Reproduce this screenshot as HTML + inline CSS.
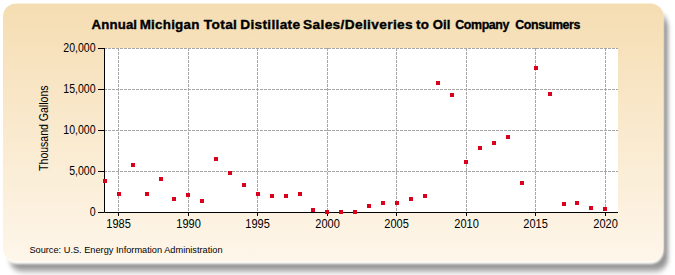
<!DOCTYPE html>
<html><head><meta charset="utf-8"><style>
html,body{margin:0;padding:0;background:#fff;width:675px;height:275px;overflow:hidden}
svg{display:block}
text{font-family:"Liberation Sans",sans-serif;fill:#000}
</style></head><body>
<svg width="675" height="275" viewBox="0 0 675 275">
<defs>
<linearGradient id="bg" x1="0" y1="0" x2="0" y2="1">
<stop offset="0" stop-color="#F5DDB2"/>
<stop offset="1" stop-color="#FEF6EA"/>
</linearGradient>
<filter id="sh" x="-5%" y="-5%" width="115%" height="120%">
<feGaussianBlur stdDeviation="2.2 3"/>
</filter>
<filter id="soft" x="-2%" y="-2%" width="104%" height="104%"><feGaussianBlur stdDeviation="0.6"/></filter>
<filter id="soft2" x="-2%" y="-2%" width="104%" height="104%"><feGaussianBlur stdDeviation="1.2"/></filter>
</defs>
<rect x="9.5" y="13.5" width="658.5" height="257.5" rx="13" fill="#6a6a6a" opacity="0.72" filter="url(#sh)"/>
<rect x="3.5" y="6.5" width="660" height="257.5" rx="13" fill="#fffcf6" filter="url(#soft2)"/>
<rect x="3" y="3.5" width="660.5" height="257.5" rx="13" fill="url(#bg)" filter="url(#soft)"/>
<rect x="104" y="48" width="514" height="164" fill="#fff"/>
<path d="M104 171.5H618M104 130.5H618M104 89.5H618M104 48.5H618M118.5 48V212M188.5 48V212M257.5 48V212M327.5 48V212M396.5 48V212M466.5 48V212M535.5 48V212M605.5 48V212" stroke="#a6a6a6" stroke-width="1" stroke-dasharray="3,1" fill="none"/>
<path d="M104.5 48V212.5H618M98 212.5H104M98 171.5H104M98 130.5H104M98 89.5H104M98 48.5H104M118.5 212V216M188.5 212V216M257.5 212V216M327.5 212V216M396.5 212V216M466.5 212V216M535.5 212V216M605.5 212V216" stroke="#000" stroke-width="1" fill="none"/>
<g fill="#DA001C"><rect x="103" y="179" width="4" height="4"/><rect x="117" y="192" width="4" height="4"/><rect x="131" y="163" width="4" height="4"/><rect x="145" y="192" width="4" height="4"/><rect x="159" y="177" width="4" height="4"/><rect x="172" y="197" width="4" height="4"/><rect x="186" y="193" width="4" height="4"/><rect x="200" y="199" width="4" height="4"/><rect x="214" y="157" width="4" height="4"/><rect x="228" y="171" width="4" height="4"/><rect x="242" y="183" width="4" height="4"/><rect x="256" y="192" width="4" height="4"/><rect x="270" y="194" width="4" height="4"/><rect x="284" y="194" width="4" height="4"/><rect x="298" y="192" width="4" height="4"/><rect x="311" y="208" width="4" height="4"/><rect x="325" y="210" width="4" height="4"/><rect x="339" y="210" width="4" height="4"/><rect x="353" y="210" width="4" height="4"/><rect x="367" y="204" width="4" height="4"/><rect x="381" y="201" width="4" height="4"/><rect x="395" y="201" width="4" height="4"/><rect x="409" y="197" width="4" height="4"/><rect x="423" y="194" width="4" height="4"/><rect x="436" y="81" width="4" height="4"/><rect x="450" y="93" width="4" height="4"/><rect x="464" y="160" width="4" height="4"/><rect x="478" y="146" width="4" height="4"/><rect x="492" y="141" width="4" height="4"/><rect x="506" y="135" width="4" height="4"/><rect x="520" y="181" width="4" height="4"/><rect x="534" y="66" width="4" height="4"/><rect x="548" y="92" width="4" height="4"/><rect x="562" y="202" width="4" height="4"/><rect x="575" y="201" width="4" height="4"/><rect x="589" y="206" width="4" height="4"/><rect x="603" y="207" width="4" height="4"/></g>
<g font-weight="bold" font-size="13" fill="#000" stroke="#000" stroke-width="0.35"><text transform="translate(91.60 28.8) scale(1.016 1)" letter-spacing="0.138">Annual</text><text transform="translate(139.67 28.8) scale(1.031 1)" letter-spacing="0.236">Michigan</text><text transform="translate(203.80 28.8) scale(1.052 1)" letter-spacing="0.357">Total</text><text transform="translate(240.25 28.8) scale(1.053 1)" letter-spacing="0.295">Distillate</text><text transform="translate(303.05 28.8) scale(1.054 1)" letter-spacing="0.335">Sales/Deliveries</text><text transform="translate(416.00 28.8) scale(1.029 1)" letter-spacing="0.340">to</text><text transform="translate(432.70 28.8) scale(1.009 1)" letter-spacing="0.074">Oil</text><text transform="translate(455.30 28.8) scale(0.957 1)" letter-spacing="-0.444">Company</text><text transform="translate(515.30 28.8) scale(0.955 1)" letter-spacing="-0.419">Consumers</text></g>
<g font-size="12"><text transform="translate(95.6 216.3) scale(0.88 1)" text-anchor="end">0</text><text transform="translate(95.6 175.3) scale(0.88 1)" text-anchor="end">5,000</text><text transform="translate(95.6 134.3) scale(0.88 1)" text-anchor="end">10,000</text><text transform="translate(95.6 93.3) scale(0.88 1)" text-anchor="end">15,000</text><text transform="translate(95.6 52.3) scale(0.88 1)" text-anchor="end">20,000</text></g>
<g font-size="12"><text transform="translate(118.6 228) scale(0.92 1)" text-anchor="middle">1985</text><text transform="translate(188.6 228) scale(0.92 1)" text-anchor="middle">1990</text><text transform="translate(257.6 228) scale(0.92 1)" text-anchor="middle">1995</text><text transform="translate(327.6 228) scale(0.92 1)" text-anchor="middle">2000</text><text transform="translate(396.6 228) scale(0.92 1)" text-anchor="middle">2005</text><text transform="translate(466.6 228) scale(0.92 1)" text-anchor="middle">2010</text><text transform="translate(535.6 228) scale(0.92 1)" text-anchor="middle">2015</text><text transform="translate(605.6 228) scale(0.92 1)" text-anchor="middle">2020</text></g>
<text transform="translate(47.6 128.2) rotate(-90)" text-anchor="middle" font-size="12" textLength="85.4" lengthAdjust="spacingAndGlyphs">Thousand Gallons</text>
<text x="29.4" y="252.8" font-size="9.3" textLength="193.2" lengthAdjust="spacingAndGlyphs">Source: U.S. Energy Information Administration</text>
</svg>
</body></html>
